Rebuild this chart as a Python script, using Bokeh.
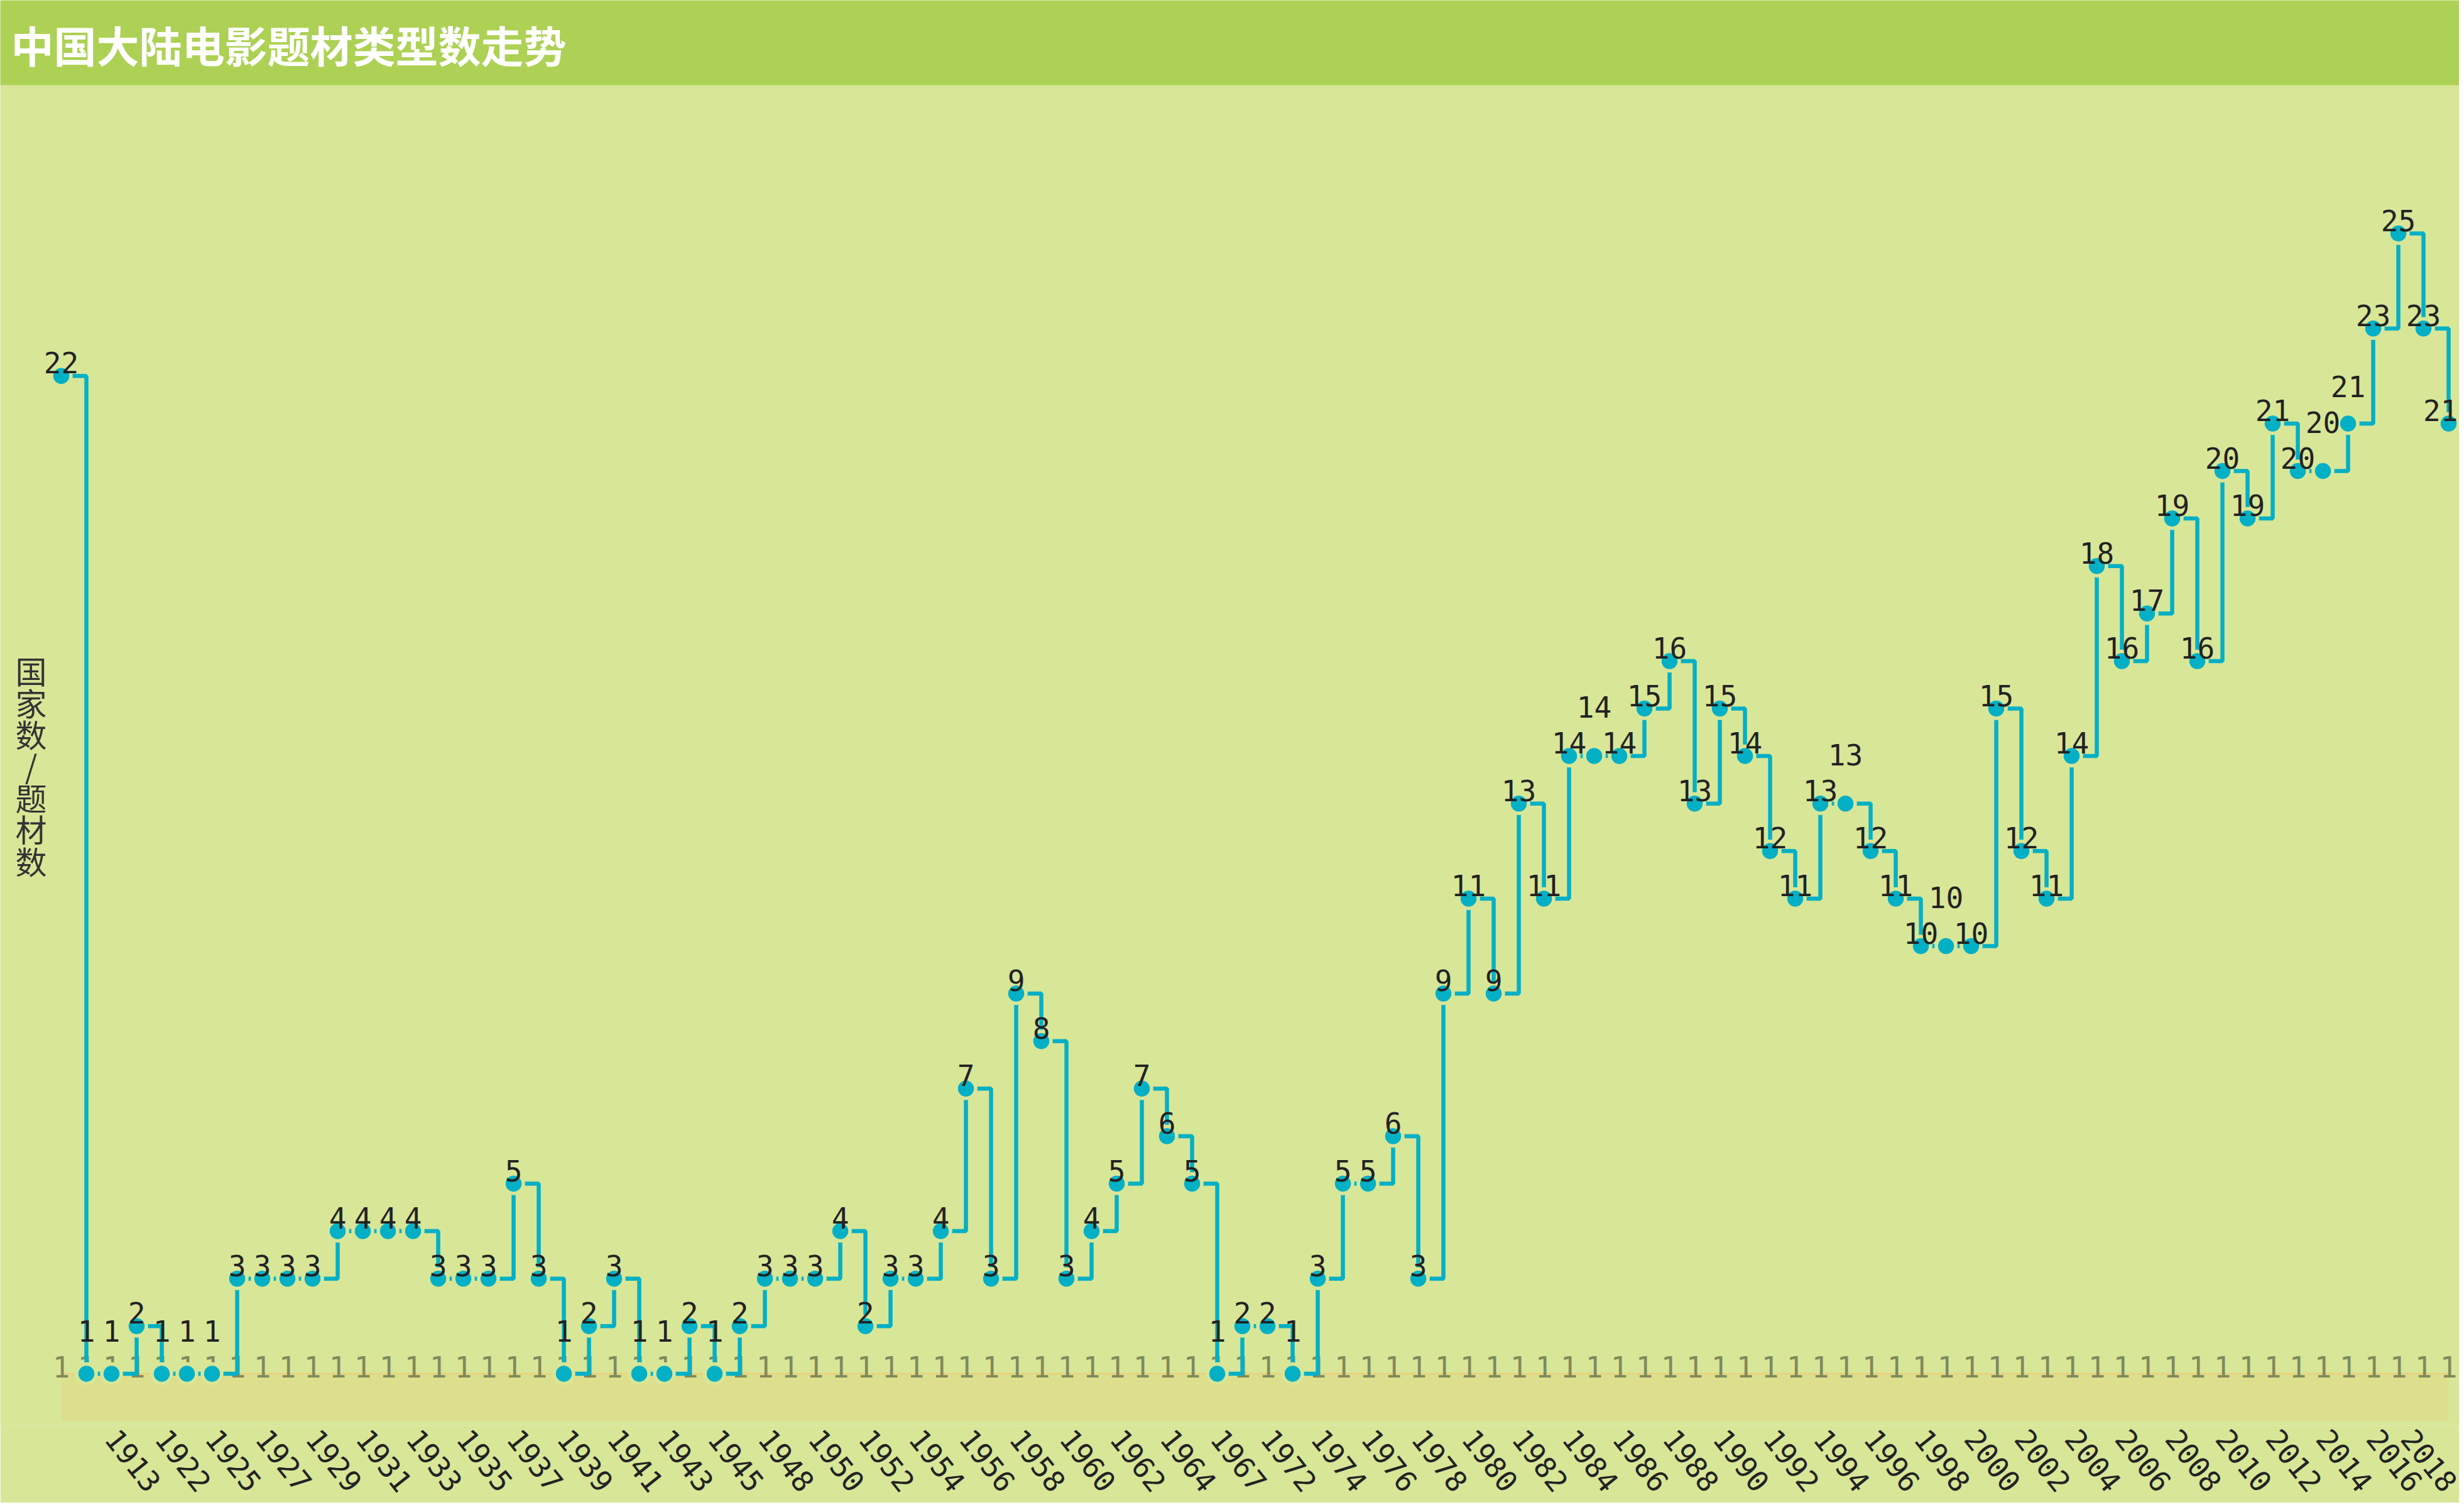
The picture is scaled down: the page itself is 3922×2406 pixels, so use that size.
from bokeh.plotting import figure
from bokeh.models import ColumnDataSource, Range1d, FixedTicker, BoxAnnotation, Label
from bokeh.embed import file_html
from bokeh.resources import INLINE
from bokeh.core.properties import value

# ---------------- data ----------------
TITLE = "中国大陆电影题材类型数走势"
Y_TITLE = "国家数/题材数"

years = [
    "1905", "1913", "1921", "1922", "1923",
    "1925", "1926", "1927", "1928", "1929", "1930", "1931", "1932", "1933", "1934",
    "1935", "1936", "1937", "1938", "1939", "1940", "1941", "1942", "1943", "1944", "1945",
    "1947",
    "1948", "1949", "1950", "1951", "1952", "1953", "1954", "1955", "1956", "1957",
    "1958", "1959", "1960", "1961", "1962", "1963", "1964",
    "1965", "1967", "1970",
    "1972", "1973", "1974", "1975", "1976", "1977", "1978", "1979", "1980", "1981",
    "1982", "1983", "1984", "1985", "1986", "1987", "1988", "1989", "1990", "1991",
    "1992", "1993", "1994", "1995", "1996", "1997", "1998", "1999", "2000", "2001",
    "2002", "2003", "2004", "2005", "2006", "2007", "2008", "2009", "2010", "2011",
    "2012", "2013", "2014", "2015", "2016", "2017", "2018", "2019", "2020",
]

# 题材数 (genres per year)
genre_counts = [
    22, 1, 1, 2, 1, 1, 1, 3, 3, 3,
    3, 4, 4, 4, 4, 3, 3, 3, 5, 3,
    1, 2, 3, 1, 1, 2, 1, 2, 3, 3,
    3, 4, 2, 3, 3, 4, 7, 3, 9, 8,
    3, 4, 5, 7, 6, 5, 1, 2, 2, 1,
    3, 5, 5, 6, 3, 9, 11, 9, 13, 11,
    14, 14, 14, 15, 16, 13, 15, 14, 12, 11,
    13, 13, 12, 11, 10, 10, 10, 15, 12, 11,
    14, 18, 16, 17, 19, 16, 20, 19, 21, 20,
    20, 21, 23, 25, 23, 21,
]

# 国家数 (countries per year)
country_counts = [
    1, 1, 1, 1, 1, 1, 1, 1, 1, 1,
    1, 1, 1, 1, 1, 1, 1, 1, 1, 1,
    1, 1, 1, 1, 1, 1, 1, 1, 1, 1,
    1, 1, 1, 1, 1, 1, 1, 1, 1, 1,
    1, 1, 1, 1, 1, 1, 1, 1, 1, 1,
    1, 1, 1, 1, 1, 1, 1, 1, 1, 1,
    1, 1, 1, 1, 1, 1, 1, 1, 1, 1,
    1, 1, 1, 1, 1, 1, 1, 1, 1, 1,
    1, 1, 1, 1, 1, 1, 1, 1, 1, 1,
    1, 1, 1, 1, 1, 1,
]

# ---------------- style / layout ----------------
BG = "#d8e698"
BAR = "#add155"
TEAL = "#04b0c6"
BAND = "#dddf8d"
BAND_LINE = "#ead27e"
GRAY_TXT = "#7f8a5b"
DARK = "#222222"
NUM_FONT = "DejaVu Sans Mono"
CJK_FONT = "Noto Sans CJK SC"
NUM_SIZE = 46

MARGIN = 8
FRAME_W, FRAME_H = 3914, 2268
FIRST_PX = 105.0     # page x of the first category
STEP_PX = 40.0       # px per category
ZERO_PX = 2269.0     # page y of value 0
UNIT_PX = 75.6       # px per unit
RIGHT_PX = MARGIN + FRAME_W


def x_of(px):
    return (px - FIRST_PX) / STEP_PX


def y_of(py):
    return (ZERO_PX - py) / UNIT_PX


n = len(years)
xs = list(range(n))

# simple label overlap avoidance (shift upward), in page pixels
DIGIT_W = 24.0
BOX_H = 57.0
boxes = []


def hit(l, r, t, b):
    for box in boxes:
        L, R, T, B = box
        if l < R and r > L and t < B and b > T:
            return box
    return None


def fit_x(cx, txt):
    # keep the drawn text inside the page's right edge
    half = len(txt) * 0.602 * NUM_SIZE / 2 + 2
    return x_of(min(cx, RIGHT_PX - half))


country_label_y, country_label_x = [], []
for i, v in enumerate(country_counts):
    cx = FIRST_PX + i * STEP_PX
    w = len(str(v)) * DIGIT_W
    b = ZERO_PX - v * UNIT_PX - 11
    boxes.append((cx - w / 2, cx + w / 2, b - BOX_H, b))
    country_label_y.append(y_of(b))
    country_label_x.append(fit_x(cx, str(v)))

genre_label_y, genre_label_x = [], []
for i, v in enumerate(genre_counts):
    cx = FIRST_PX + i * STEP_PX
    w = len(str(v)) * DIGIT_W
    b = ZERO_PX - v * UNIT_PX - 21
    h = hit(cx - w / 2, cx + w / 2, b - BOX_H, b)
    while h is not None:
        b = h[2]
        h = hit(cx - w / 2, cx + w / 2, b - BOX_H, b)
    boxes.append((cx - w / 2, cx + w / 2, b - BOX_H, b))
    genre_label_y.append(y_of(b))
    genre_label_x.append(fit_x(cx, str(v)))

src = ColumnDataSource(dict(
    x=xs,
    year=years,
    genre=genre_counts,
    country=country_counts,
    genre_text=[str(v) for v in genre_counts],
    country_text=[str(v) for v in country_counts],
    genre_label_x=genre_label_x,
    genre_label_y=genre_label_y,
    country_label_x=country_label_x,
    country_label_y=country_label_y,
))

p = figure(
    frame_width=FRAME_W, frame_height=FRAME_H,
    x_range=Range1d(x_of(MARGIN), x_of(MARGIN + FRAME_W)),
    y_range=Range1d(y_of(MARGIN + FRAME_H), y_of(MARGIN)),
    output_backend="svg", toolbar_location=None, tools="",
    y_axis_location=None,
    background_fill_color=BG, border_fill_color=BG, outline_line_color=None,
    min_border_left=0, min_border_right=0, min_border_top=0, min_border_bottom=0,
)
p.grid.visible = False

# title bar
p.add_layout(BoxAnnotation(bottom=y_of(143), fill_color=BAR, fill_alpha=1.0,
                           line_color=None, level="underlay"))

# country series: band from 0 to value
p.varea(x="x", y1=0, y2="country", source=src, fill_color=BAND, fill_alpha=1.0)
p.line(x="x", y="country", source=src, line_color=BAND_LINE, line_width=3)
p.text(x="country_label_x", y="country_label_y", text="country_text", source=src,
       text_align="center", text_baseline="alphabetic",
       text_font=value(NUM_FONT), text_font_size=f"{NUM_SIZE}px", text_color=GRAY_TXT)

# genre series: step line with markers
p.step(x="x", y="genre", source=src, mode="after", line_color=TEAL, line_width=6.5)
p.scatter(x="x", y="genre", source=src, marker="circle", size=31,
          fill_color=TEAL, line_color=BG, line_width=5.5)
p.text(x="genre_label_x", y="genre_label_y", text="genre_text", source=src,
       text_align="center", text_baseline="alphabetic",
       text_font=value(NUM_FONT), text_font_size=f"{NUM_SIZE}px", text_color=DARK)

# x axis: every other year, label anchored a little right of its point
xa = p.xaxis[0]
label_idx = list(range(1, n - 1, 2))
LABEL_SHIFT = 1
xa.ticker = FixedTicker(ticks=[i + LABEL_SHIFT for i in label_idx])
xa.major_label_overrides = {i + LABEL_SHIFT: years[i] for i in label_idx}
xa.axis_line_color = None
xa.major_tick_line_color = None
xa.minor_tick_line_color = None
xa.major_label_orientation = -0.9
xa.major_label_standoff = 6
xa.major_label_text_font = NUM_FONT
xa.major_label_text_font_size = "46px"
xa.major_label_text_color = DARK

# title text
p.add_layout(Label(x=x_of(25), y=y_of(78), text=TITLE,
                   text_align="left", text_baseline="middle",
                   text_font=CJK_FONT, text_font_size="68px",
                   text_font_style="bold", text_color="white"))

# vertical y-axis title
p.add_layout(Label(x=x_of(57), y=y_of(1225), text="\n".join(Y_TITLE),
                   text_align="center", text_baseline="middle",
                   text_font=CJK_FONT, text_font_size="50px",
                   text_line_height=0.7, text_color="#333333"))

open("out.html", "w").write(file_html(p, INLINE))
